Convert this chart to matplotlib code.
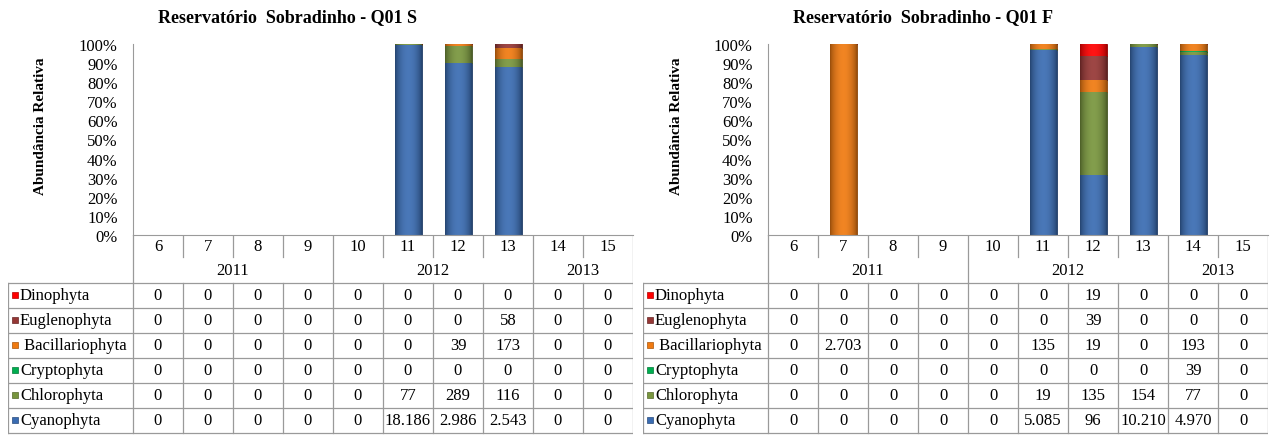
"""Reservatório Sobradinho - Q01: relative abundance bars with data table."""

import numpy as np
import matplotlib.pyplot as plt
from matplotlib.colors import to_rgb

plt.rcParams["font.family"] = ["Liberation Serif", "DejaVu Serif"]

months = ["6", "7", "8", "9", "10", "11", "12", "13", "14", "15"]
years = [("2011", 0, 4), ("2012", 4, 8), ("2013", 8, 10)]
groups = ["Cyanophyta", "Chlorophyta", "Cryptophyta",
          "Bacillariophyta", "Euglenophyta", "Dinophyta"]
group_colors = ["#3a6cb2", "#78953d", "#00ae50", "#f07a10", "#953735", "#ff0000"]

# Q01 S (surface)
s_cyano = [0, 0, 0, 0, 0, 18186, 2986, 2543, 0, 0]
s_chloro = [0, 0, 0, 0, 0, 77, 289, 116, 0, 0]
s_crypto = [0, 0, 0, 0, 0, 0, 0, 0, 0, 0]
s_bacil = [0, 0, 0, 0, 0, 0, 39, 173, 0, 0]
s_eugl = [0, 0, 0, 0, 0, 0, 0, 58, 0, 0]
s_dino = [0, 0, 0, 0, 0, 0, 0, 0, 0, 0]

# Q01 F (bottom)
f_cyano = [0, 0, 0, 0, 0, 5085, 96, 10210, 4970, 0]
f_chloro = [0, 0, 0, 0, 0, 19, 135, 154, 77, 0]
f_crypto = [0, 0, 0, 0, 0, 0, 0, 0, 39, 0]
f_bacil = [0, 2703, 0, 0, 0, 135, 19, 0, 193, 0]
f_eugl = [0, 0, 0, 0, 0, 0, 39, 0, 0, 0]
f_dino = [0, 0, 0, 0, 0, 0, 19, 0, 0, 0]

W, H = 1271, 439
GRID = "#9a9a9a"
FS = 12


def fmt(v):
    return f"{v:,}".replace(",", ".")


def shade(color):
    base = np.array(to_rgb(color))
    t = np.linspace(0, 1, 64)
    prof = np.sin(np.pi * t) ** 0.7
    dark = base * 0.62
    light = base * 0.92 + 0.08
    img = dark[None, :] * (1 - prof[:, None]) + light[None, :] * prof[:, None]
    return img[None, :, :]


def panel(x0, title, series):
    counts = np.array(series, dtype=float)
    totals = counts.sum(axis=0)
    pct = np.divide(counts * 100, totals, out=np.zeros_like(counts), where=totals > 0)
    x = np.arange(len(months))

    ax = fig.add_axes([x0 / W, (H - 236) / H, 500 / W, 191 / H])
    bottom = np.zeros(len(months))
    for name, vals, col in zip(groups, pct, group_colors):
        bars = ax.bar(x, vals, bottom=bottom, width=0.54, color=col,
                      edgecolor=np.array(to_rgb(col)) * 0.55, linewidth=0.6, zorder=2)
        for b in bars:
            if b.get_height() <= 0:
                continue
            im = ax.imshow(shade(col), extent=(b.get_x(), b.get_x() + b.get_width(),
                           b.get_y(), b.get_y() + b.get_height()),
                           aspect="auto", zorder=2.5, interpolation="bilinear")
            im.set_clip_path(b)
        bottom += vals
    ax.set_xlim(-0.5, 9.5)
    ax.set_ylim(0, 100)
    ax.set_xticks([])
    ax.set_yticks(np.arange(0, 101, 10))
    ax.set_yticklabels([f"{v}%" for v in range(0, 101, 10)], fontsize=FS)
    ax.tick_params(axis="y", length=0, pad=11)
    for side in ("top", "right"):
        ax.spines[side].set_visible(False)
    for side in ("left", "bottom"):
        ax.spines[side].set_color(GRID)
    ax.set_facecolor("none")
    fig.text((x0 - 92) / W, 1 - 126 / H, "Abundância Relativa", rotation=90,
             ha="center", va="center", fontsize=11, fontweight="bold")
    fig.text((x0 + 155) / W, 1 - 18 / H, title, ha="center", va="center",
             fontsize=13, fontweight="bold")

    # table below the chart
    tab = fig.add_axes([(x0 - 125) / W, (H - 436) / H, 625 / W, 200 / H])
    tab.set_xlim(-3, 9.5)
    tab.set_ylim(200, 0)
    tab.axis("off")
    lw = 0.9
    for i, m in enumerate(months):
        tab.text(i, 11, m, ha="center", va="center", fontsize=FS)
    starts = {s for _, s, _ in years}
    for i in range(1, len(months)):
        if i not in starts:
            tab.plot([i - 0.5, i - 0.5], [0, 22], color=GRID, lw=lw)
    for label, s, e in years:
        tab.plot([s - 0.5, s - 0.5], [0, 48], color=GRID, lw=lw)
        tab.text((s + e - 1) / 2, 35, label, ha="center", va="center", fontsize=FS)
    tab.plot([9.5, 9.5], [0, 48], color=GRID, lw=lw)
    rows = list(zip(groups, counts, group_colors))[::-1]
    for k in range(len(rows) + 1):
        tab.plot([-3, 9.5], [48 + 25 * k, 48 + 25 * k], color=GRID, lw=lw)
    for xv in [-3] + [i - 0.5 for i in range(len(months) + 1)]:
        tab.plot([xv, xv], [48, 48 + 25 * len(rows)], color=GRID, lw=lw)
    for k, (name, vals, col) in enumerate(rows):
        yc = 48 + 25 * k + 12.5
        tab.plot([-2.87], [yc - 1], marker="s", markersize=5, color=col,
                 markeredgecolor=np.array(to_rgb(col)) * 0.7, markeredgewidth=0.5)
        label = " " + name if name == "Bacillariophyta" else name
        tab.text(-2.76, yc, label, ha="left", va="center", fontsize=FS)
        for i, v in enumerate(vals):
            tab.text(i, yc, fmt(int(v)), ha="center", va="center", fontsize=FS)


fig = plt.figure(figsize=(W / 100, H / 100), dpi=100)
panel(133, "Reservatório  Sobradinho - Q01 S",
      [s_cyano, s_chloro, s_crypto, s_bacil, s_eugl, s_dino])
panel(768, "Reservatório  Sobradinho - Q01 F",
      [f_cyano, f_chloro, f_crypto, f_bacil, f_eugl, f_dino])
fig.savefig("out.png", dpi=100)
